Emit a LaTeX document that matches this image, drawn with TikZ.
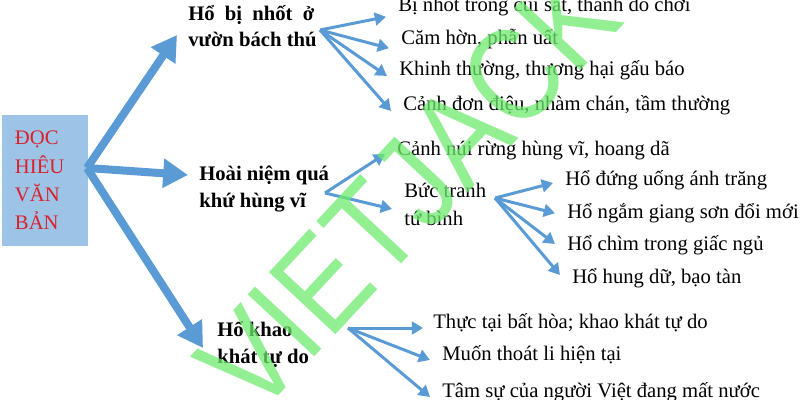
\documentclass[tikz,border=0pt]{standalone}
\usepackage{fontspec}
\setmainfont{Liberation Serif}
\newfontfamily\wmfont[FakeStretch=0.86]{Liberation Sans}
\usetikzlibrary{arrows.meta,positioning}
\definecolor{arrblue}{RGB}{91,155,213}
\definecolor{boxblue}{RGB}{157,195,230}
\definecolor{rootred}{RGB}{218,32,42}
\definecolor{wmgreen}{RGB}{110,235,110}

\begin{document}
\begin{tikzpicture}[x=0.025cm, y=-0.025cm,
    every node/.append style={align=left, inner sep=0pt},
    txt/.style={font=\fontsize{14.7}{19.3}\selectfont},
    root/.style={fill=boxblue, text=rootred, text width=1.5cm,
        minimum width=2.15cm, minimum height=3.275cm,
        font=\fontsize{14.7}{20.2}\selectfont},
    main/.style={anchor=base west, font=\fontsize{14.7}{19.1}\selectfont\bfseries},
    leaf/.style={txt, anchor=base west},
    big/.style={arrblue, line width=0.2cm, -{Triangle[length=0.62cm,width=0.7cm]}},
    thin/.style={arrblue, line width=0.075cm, -{Triangle[length=0.28cm,width=0.32cm]}},
    wmark/.style={text=wmgreen, text opacity=0.75, rotate=47,
        font=\wmfont\fontsize{94}{94}\selectfont}]
   \useasboundingbox (0,0) rectangle (800,400);

   \node [root] (doc) at (45,180.5) {ĐỌC\\HIÊU\\VĂN\\BẢN};

   % base = last line
   \node [main] (hb) at (188,47)  {\makebox[3.15cm][s]{Hổ bị nhốt ở}\\vườn bách thú};
   \node [main] (hn) at (199,207) {Hoài niệm quá\\khứ hùng vĩ};
   \node [main] (hk) at (217,363) {Hổ khao\\khát tự do};

   % vuon bach thu
   \node [leaf] (cui)   at (398,12)  {Bị nhốt trong cũi sắt, thành đồ chơi};
   \node [leaf] (cam)   at (401,45)  {Căm hờn, phẫn uất};
   \node [leaf] (khinh) at (399,76)  {Khinh thường, thương hại gấu báo};
   \node [leaf] (canh)  at (403,111) {Cảnh đơn điệu, nhàm chán, tầm thường};
   % qua khu
   \node [leaf] (nui)   at (397,156) {Cảnh núi rừng hùng vĩ, hoang dã};
   \node [leaf] (tranh) at (404,225) {Bức tranh\\tứ bình};
   \node [leaf] (trang) at (565,185) {Hổ đứng uống ánh trăng};
   \node [leaf] (ngam)  at (567,218) {Hổ ngắm giang sơn đổi mới};
   \node [leaf] (ngu)   at (567,250) {Hổ chìm trong giấc ngủ};
   \node [leaf] (hung)  at (572,283) {Hổ hung dữ, bạo tàn};
   % tu do
   \node [leaf] (thuc)  at (433,328) {Thực tại bất hòa; khao khát tự do};
   \node [leaf] (thoat) at (442,360) {Muốn thoát li hiện tại};
   \node [leaf] (tam)   at (442,397) {Tâm sự của người Việt đang mất nước};

   \coordinate (h0) at (87,168);
   \coordinate (h1) at (320,30);
   \coordinate (h2) at (325,193);
   \coordinate (h3) at (495,198);
   \coordinate (h4) at (348,328);

   \path[big] (h0) edge ([xshift=-0.275cm,yshift=0.3cm]hb.base west)
   (h0) edge ([xshift=-0.275cm,yshift=0.8cm]hn.base west)
   (h0) edge ([xshift=-0.35cm,yshift=0.375cm]hk.base west);

   \path[thin] (h1) edge ([xshift=-0.3cm,yshift=-0.12cm]cui.base west)
   (h1) edge ([xshift=-0.3cm,yshift=-0.08cm]cam.base west)
   (h1) edge ([xshift=-0.3cm]khinh.base west)
   (h1) edge ([xshift=-0.3cm]canh.base west)
   (h2) edge ([xshift=-0.3cm,yshift=0.05cm]nui.base west)
   (h2) edge ([xshift=-0.3cm,yshift=0.4cm]tranh.base west)
   (h3) edge ([xshift=-0.3cm,yshift=0.05cm]trang.base west)
   (h3) edge ([xshift=-0.3cm,yshift=0.12cm]ngam.base west)
   (h3) edge ([xshift=-0.3cm,yshift=0.15cm]ngu.base west)
   (h3) edge ([xshift=-0.3cm,yshift=0.2cm]hung.base west)
   (h4) edge ([xshift=-0.25cm]thuc.base west)
   (h4) edge ([xshift=-0.3cm]thoat.base west)
   (h4) edge ([xshift=-0.3cm]tam.base west);

   \node [wmark] (wm) at (408,190) {VIETJACK};
\end{tikzpicture}
\end{document}
